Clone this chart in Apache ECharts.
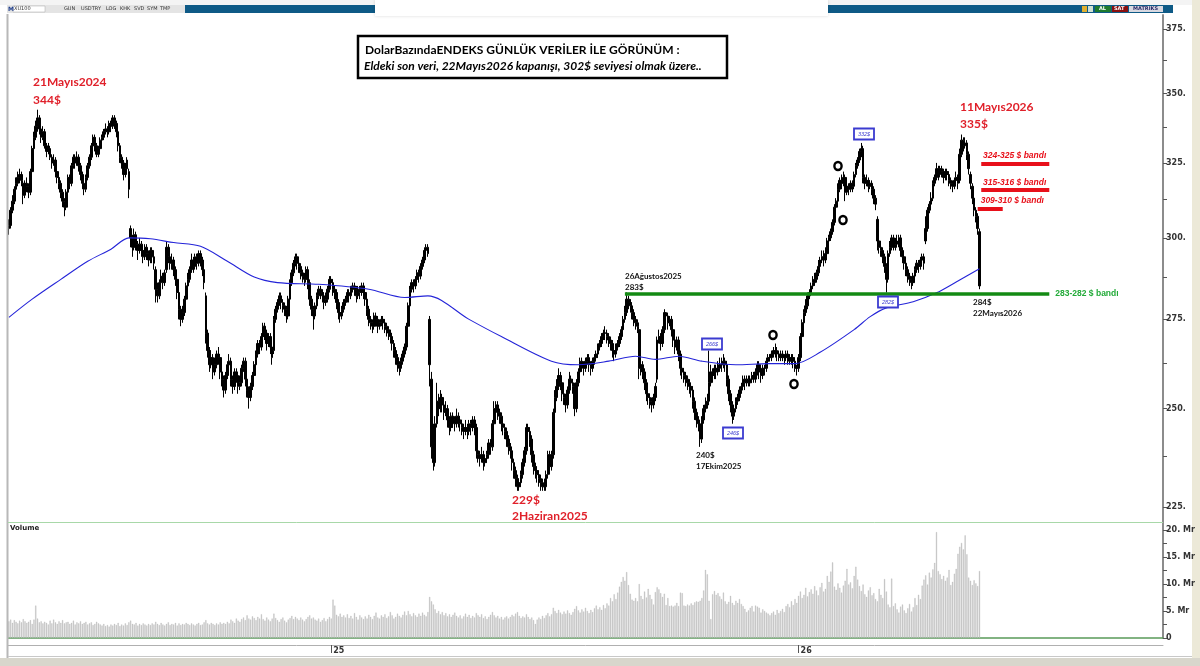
<!DOCTYPE html>
<html><head><meta charset="utf-8">
<script src="https://cdn.jsdelivr.net/npm/echarts@6/dist/echarts.min.js"></script>
<style>html,body{margin:0;padding:0;background:#fff}#c{width:1200px;height:666px}</style>
</head><body><div id="c"></div>
<script>
// ---------- categories: trading days (weekdays) ----------
const TOTAL_SLOTS = 645;
function weekdays(start, n){const out=[];const d=new Date(start+'T00:00:00Z');while(out.length<n){const w=d.getUTCDay();if(w!==0&&w!==6)out.push(d.toISOString().slice(0,10));d.setUTCDate(d.getUTCDate()+1);}return out;}
const dates = weekdays('2024-04-24', TOTAL_SLOTS);

// ---------- daily candles [open, close, low, high] (USD) ----------
const ohlc = [
[303,304,301,306],[304,309,303,310],[309,312,308,314],[312,316,311,317],[316,318,315,320],[318,320,317,322],[320,321,318,323],[321,319,317,322],[318,314,311,319],[314,318,313,319],
[318,317,315,320],[317,315,313,318],[315,322,314,323],[322,330,321,331],[330,334,329,336],[334,338,333,340],[338,341,336,344],[341,337,335,342],[337,334,332,338],[334,336,333,338],
[336,331,330,337],[331,329,327,332],[329,330,328,332],[330,327,326,331],[327,325,323,328],[325,326,324,328],[326,322,320,327],[322,320,318,323],[320,318,316,321],[318,315,313,319],
[315,312,310,316],[312,310,307,313],[310,315,309,316],[315,320,314,321],[320,318,316,321],[318,324,317,325],[324,327,323,328],[327,325,323,328],[325,327,324,329],[327,324,322,328],
[324,321,319,325],[321,318,316,322],[318,316,314,319],[316,320,315,321],[320,324,319,325],[324,327,323,328],[327,331,326,332],[331,334,330,335],[334,331,329,335],[331,328,327,332],
[328,330,327,331],[330,333,329,334],[333,334,331,335],[334,336,333,337],[336,337,335,339],[337,336,334,338],[336,339,335,340],[339,338,336,340],[338,341,337,342],[341,339,337,342],
[339,336,334,340],[336,331,329,337],[331,327,325,332],[327,325,323,328],[325,321,319,326],[321,323,320,325],[323,326,322,327],[322,316,313,323],[303,300,297,304],[300,297,294,301],
[297,301,296,303],[301,298,296,302],[298,296,293,299],[296,298,295,300],[298,296,294,299],[296,294,292,297],[294,297,293,298],[297,295,293,298],[295,293,291,296],[293,296,292,297],
[296,294,292,297],[294,292,290,295],[290,284,280,291],[284,282,280,286],[282,286,281,287],[286,288,285,290],[288,286,284,289],[286,289,285,290],[290,297,289,299],[297,294,292,298],
[294,292,290,295],[292,293,290,295],[293,290,288,294],[290,287,285,291],[287,283,281,288],[283,278,275,284],[278,275,273,279],[275,277,274,279],[277,281,276,282],[281,285,280,286],
[285,287,284,289],[287,290,286,291],[290,293,289,295],[293,291,289,294],[291,294,290,295],[294,292,290,295],[292,295,291,296],[295,293,291,296],[293,290,288,294],[290,286,284,291],
[282,271,268,283],[271,266,264,272],[266,262,260,267],[262,264,261,266],[264,260,258,265],[260,262,259,264],[262,265,261,266],[265,264,262,267],[264,260,258,265],[260,258,256,261],
[258,255,253,259],[255,259,254,260],[259,262,258,263],[262,263,261,265],[263,258,256,264],[258,256,254,259],[256,260,255,261],[260,259,257,261],[259,256,254,260],[256,257,255,259],
[257,261,256,262],[261,263,260,264],[263,258,256,264],[258,255,253,259],[255,253,250,256],[253,256,252,257],[256,259,255,260],[259,262,258,263],[262,265,261,266],[265,268,264,269],
[268,267,265,269],[267,270,266,271],[270,273,269,274],[273,271,269,274],[271,268,266,272],[268,270,267,271],[270,267,265,271],[267,264,262,268],[266,275,265,276],[275,278,274,279],
[278,280,277,281],[280,282,279,283],[282,280,278,283],[280,279,277,281],[279,278,276,280],[278,276,274,279],[276,281,275,282],[281,286,280,287],[286,289,285,290],[289,292,288,293],
[292,294,291,295],[294,292,290,295],[292,291,289,293],[291,289,287,292],[289,288,286,290],[288,287,285,289],[287,290,286,291],[290,286,284,291],[286,281,279,287],[281,278,276,282],
[278,276,272,279],[276,279,275,280],[279,282,278,283],[282,284,281,285],[284,283,281,285],[283,282,280,284],[282,280,278,283],[280,281,279,283],[281,284,280,285],[284,287,283,288],
[287,286,284,288],[286,284,282,287],[284,283,281,285],[283,280,278,284],[280,277,275,281],[277,276,274,278],[276,278,275,279],[278,280,277,281],[280,281,279,282],[281,283,280,284],
[283,282,280,284],[282,284,281,285],[284,285,283,286],[285,284,282,286],[284,282,280,285],[282,284,281,285],[284,283,281,285],[283,285,282,286],[285,283,281,286],[283,281,279,284],
[281,278,276,282],[278,275,273,279],[275,274,272,276],[274,273,271,275],[273,276,272,277],[276,275,273,277],[275,273,271,276],[273,274,272,275],[274,275,273,276],[275,274,272,276],
[274,273,271,275],[273,272,270,274],[272,271,269,273],[271,270,268,272],[270,268,266,271],[268,266,264,269],[266,264,262,267],[264,262,260,265],[262,261,259,263],[261,263,260,264],
[263,265,262,266],[265,267,264,268],[267,273,266,274],[273,279,272,280],[279,284,278,285],[284,286,283,287],[286,285,283,287],[285,287,284,288],[287,289,286,290],[289,288,286,290],
[288,291,287,292],[291,293,290,294],[293,296,292,297],[296,297,295,298],[297,295,294,298],[275,262,256,276],[258,240,237,260],[242,236,234,246],[236,246,235,248],[246,252,245,257],
[252,250,248,254],[250,253,249,255],[253,251,249,254],[251,249,247,252],[249,250,248,252],[250,247,245,251],[247,245,243,248],[245,248,244,249],[248,247,245,249],[247,246,244,248],
[246,248,245,250],[248,247,245,249],[247,246,244,248],[246,245,243,247],[245,244,242,246],[244,245,243,247],[245,244,242,246],[244,246,243,247],[246,245,243,247],[245,247,244,248],
[247,245,243,248],[245,239,237,246],[239,238,236,240],[238,237,235,239],[237,238,236,240],[238,236,234,239],[236,237,235,238],[237,238,236,239],[238,241,237,242],[241,240,238,242],
[240,246,239,247],[246,250,245,252],[250,251,248,252],[251,249,247,252],[249,248,246,250],[248,246,244,249],[246,245,243,247],[245,244,242,246],[244,242,240,245],[242,240,238,243],
[240,239,237,241],[239,236,234,240],[236,234,232,237],[234,232,230,235],[232,230,229,233],[230,231,229,232],[231,233,230,234],[233,236,232,237],[236,239,235,240],[239,245,238,246],
[245,244,242,246],[244,242,240,245],[242,238,236,243],[238,235,233,239],[235,234,232,236],[234,233,231,235],[233,232,230,234],[232,231,229,233],[231,230,229,232],[230,230,229,232],
[230,233,229,234],[233,238,232,239],[238,235,233,239],[235,238,234,239],[238,249,237,250],[249,253,248,255],[253,256,252,258],[256,259,255,261],[259,257,255,260],[257,254,252,258],
[254,253,251,255],[253,251,249,254],[251,255,250,256],[255,258,254,260],[258,257,255,259],[257,256,254,258],[256,250,248,257],[250,257,249,258],[257,260,256,261],[260,263,259,264],
[263,262,260,264],[262,261,259,263],[261,263,260,264],[263,264,262,265],[264,262,260,265],[262,261,259,263],[261,263,260,264],[263,264,262,265],[264,265,263,266],[265,267,264,268],
[267,268,266,269],[268,270,267,271],[270,271,269,272],[271,271,269,273],[271,270,268,272],[270,269,267,271],[269,268,266,270],[268,266,264,269],[266,265,263,267],[265,267,264,268],
[267,268,266,269],[268,270,267,271],[270,272,269,273],[272,275,271,276],[275,277,274,279],[277,281,276,283],[281,280,278,282],[280,279,277,281],[279,277,275,280],[277,275,273,278],
[275,274,272,276],[274,273,271,275],[272,261,258,273],[261,262,259,264],[262,260,258,263],[260,257,255,261],[257,254,252,258],[254,253,251,255],[253,252,250,254],[252,251,249,253],
[251,253,250,254],[253,256,252,257],[258,269,257,270],[269,270,268,272],[270,268,266,271],[268,272,267,273],[272,277,271,278],[277,276,274,277],[276,274,272,277],[274,275,273,276],
[275,272,270,276],[272,269,267,273],[269,267,265,270],[267,269,266,270],[269,265,263,270],[265,261,259,266],[261,260,258,262],[260,259,257,261],[259,258,256,260],[258,257,255,259],
[257,256,254,258],[256,255,253,257],[255,252,250,256],[252,249,247,253],[249,247,245,250],[247,246,244,248],[246,242,240,247],[242,247,241,248],[247,250,246,251],[250,251,249,253],
[251,252,250,254],[252,257,251,266],[257,260,256,262],[260,259,257,261],[259,261,258,262],[261,260,258,262],[260,261,259,263],[261,262,260,264],[262,262,260,264],[262,263,261,265],
[263,262,260,264],[262,258,256,263],[258,254,252,259],[254,251,249,255],[251,248,246,252],[248,250,247,251],[250,252,249,253],[252,253,251,254],[253,255,252,256],[255,256,254,257],
[256,258,255,259],[258,257,255,259],[257,258,256,259],[258,257,256,259],[257,258,256,259],[258,259,257,260],[259,258,257,260],[258,260,257,261],[260,262,259,263],[262,260,258,263],
[260,259,257,261],[259,261,258,262],[261,261,259,262],[261,263,260,264],[263,264,262,265],[264,264,263,265],[264,265,263,266],[265,266,264,267],[266,266,264,268],[266,265,263,267],
[265,264,263,266],[264,265,263,266],[265,264,263,266],[264,264,262,265],[264,265,263,266],[265,264,262,266],[264,263,262,265],[263,264,262,265],[264,263,261,265],[263,261,260,264],
[261,261,259,262],[261,264,260,265],[264,270,263,271],[270,274,269,275],[274,277,273,278],[277,279,276,281],[279,282,278,283],[282,283,281,284],[283,285,282,286],[285,286,284,288],
[286,287,285,289],[287,289,286,290],[289,291,288,293],[291,293,290,294],[293,294,292,296],[294,293,291,296],[293,295,292,297],[295,299,294,300],[299,300,298,301],[300,302,299,303],
[302,305,301,306],[305,310,304,311],[310,312,309,313],[312,316,311,318],[316,319,315,320],[319,318,316,321],[318,320,317,322],[320,315,312,321],[315,317,314,318],[317,316,314,318],
[316,318,315,319],[318,317,315,319],[317,321,316,322],[321,324,320,325],[324,326,323,327],[326,329,325,330],[329,330,327,332],[330,320,318,331],[320,318,316,321],[318,319,317,321],
[319,317,315,320],[317,318,316,319],[318,316,314,319],[316,313,311,317],[313,311,309,314],[306,299,296,307],[299,297,295,300],[297,296,294,299],[296,294,292,297],[294,291,289,295],
[291,287,283,292],[287,295,286,296],[295,297,294,299],[297,300,296,301],[300,297,296,301],[297,298,296,300],[298,299,297,301],[299,300,297,301],[300,296,294,301],[296,294,292,297],
[294,292,290,295],[292,290,288,293],[290,288,286,291],[288,287,285,289],[287,286,284,288],[286,288,285,289],[288,290,287,291],[290,292,289,293],[292,291,289,293],[291,293,290,294],
[293,294,292,295],[294,292,290,295],[299,303,298,307],[303,309,302,310],[309,311,308,312],[311,313,310,315],[313,318,312,319],[318,320,317,321],[320,323,319,325],[323,321,319,324],
[321,323,320,324],[323,322,320,324],[322,320,318,323],[320,322,319,323],[322,321,319,323],[321,319,317,322],[319,318,316,320],[318,317,315,319],[317,319,316,320],[319,320,318,322],
[320,318,316,321],[319,328,318,330],[328,333,327,335],[333,331,329,334],[331,332,330,334],[332,328,326,333],[328,323,321,329],[321,318,316,322],[317,313,311,318],[313,309,307,314],
[309,307,305,310],[307,303,301,308],[302,285,284,303]
];

// ---------- daily volume (milyar TL, "Mr") ----------
const volume = [
3.1,3.4,2.8,3.3,3.0,2.7,3.2,2.9,3.5,3.1, 2.8,3.0,3.3,2.6,3.4,6.0,3.6,2.9,3.1,2.7,
3.0,2.8,2.5,3.2,2.7,3.4,2.9,2.6,3.1,2.8, 3.3,2.7,2.9,3.0,2.6,2.8,3.2,2.5,2.9,2.7,
3.1,2.6,2.8,3.0,2.5,2.7,2.9,2.4,2.6,3.0, 2.7,2.5,2.3,2.6,2.2,2.4,2.1,2.5,2.3,2.6,
2.4,2.8,2.2,2.5,2.3,2.7,2.4,2.9,3.2,2.6, 2.5,2.8,2.3,2.6,2.4,2.7,2.5,2.3,2.6,2.4,
2.7,2.5,3.0,2.6,2.4,2.8,2.5,2.3,2.6,2.9, 2.4,2.6,2.5,2.8,2.3,2.7,2.4,2.6,2.5,2.8,
2.6,2.4,2.7,2.5,2.3,2.6,2.8,2.4,2.5,2.9, 3.3,2.7,2.5,2.8,2.6,2.4,2.7,2.5,2.9,2.6,
2.8,2.6,3.0,2.7,3.4,3.1,2.8,3.6,3.2,3.0, 3.5,3.8,3.3,4.2,3.6,3.4,4.0,3.7,3.3,3.9,
3.6,4.4,3.5,3.2,3.8,3.4,3.1,3.6,4.5,3.7, 3.3,3.0,3.5,3.8,3.2,2.9,3.4,3.7,4.1,3.5,
3.9,3.6,3.3,3.8,3.4,3.1,3.5,3.9,4.2,3.6, 3.8,3.4,3.2,3.6,3.0,3.3,3.7,3.1,3.5,3.9,
3.6,7.1,6.0,4.3,4.0,4.5,3.9,4.2,3.8,4.4, 3.7,4.1,3.6,4.6,3.9,3.4,4.2,3.8,3.5,4.0,
3.6,4.3,3.9,3.5,4.1,4.7,3.8,3.6,4.2,3.9, 4.4,3.7,4.0,4.8,4.2,3.6,3.9,4.5,4.1,3.8,
4.3,4.9,4.2,5.0,4.4,4.0,4.6,4.2,3.9,4.5, 4.1,4.7,4.3,4.0,4.8,7.6,6.8,6.2,5.3,4.6,
5.0,4.4,4.8,4.2,4.6,4.0,4.4,3.9,4.3,4.7, 4.1,3.8,4.2,3.6,4.0,4.5,3.9,4.3,3.7,4.1,
3.8,4.6,4.2,3.9,4.4,3.7,4.0,3.5,3.9,4.3, 4.8,4.2,3.8,4.1,3.6,3.9,3.4,3.8,4.0,3.6,
3.9,4.3,4.0,4.5,4.8,4.1,3.7,4.0,3.8,4.4, 3.9,3.5,3.8,3.3,2.6,3.4,3.8,3.5,4.1,3.7,
4.2,4.6,4.0,4.4,5.6,5.0,4.6,5.2,4.7,4.4, 4.9,4.5,5.1,4.6,4.3,4.8,5.4,5.9,5.1,4.7,
5.3,4.9,5.6,5.0,4.6,5.2,4.8,5.5,6.0,5.3, 5.7,5.2,6.1,5.5,6.4,6.0,7.4,6.8,8.1,7.2,
8.4,9.5,10.4,11.3,10.6,12.2,9.8,8.2,7.1,6.9, 7.4,6.8,10.0,7.8,7.2,8.6,7.5,9.1,8.0,7.2,
6.2,8.5,9.4,9.0,8.3,7.6,8.2,6.1,7.4,5.9, 6.0,5.8,6.0,6.5,5.9,8.4,8.3,6.0,5.9,6.2,
6.0,6.4,6.1,6.6,6.8,6.7,6.9,7.4,8.8,12.6, 11.8,6.9,3.5,8.1,8.7,8.0,8.3,7.7,7.2,8.4,
6.8,6.3,6.7,7.8,6.5,6.1,6.9,6.5,7.2,6.3, 5.9,5.4,4.8,5.1,5.6,5.9,4.9,6.0,5.8,5.6,
4.7,5.3,5.0,4.7,4.5,4.2,4.6,4.9,4.3,5.2, 4.6,5.0,5.4,4.8,5.9,6.3,5.7,6.8,6.1,7.2,
6.5,7.8,8.6,7.4,8.0,9.3,7.7,8.5,9.0,8.2, 9.6,8.8,7.9,9.4,10.2,8.6,9.1,11.5,10.4,12.3,
14.0,9.5,8.9,10.1,9.3,8.4,9.7,10.6,12.8,9.9, 10.3,9.2,11.5,13.2,10.8,9.6,8.7,9.9,8.1,7.6,
8.8,9.4,7.9,8.3,7.2,6.8,9.1,8.0,7.4,10.9, 8.6,6.2,5.7,11.0,5.9,6.4,5.3,4.7,5.8,6.2,
5.1,4.6,5.5,6.3,4.9,5.7,7.4,6.1,8.0,7.2, 9.7,10.8,11.6,9.9,12.1,11.2,12.7,13.9,19.6,12.4,
11.8,10.9,11.5,10.6,11.2,12.6,9.8,10.4,11.9,12.8, 15.6,16.9,17.6,16.4,19.0,15.5,11.2,10.6,9.8,10.7,
10.1,9.6,12.4
];

// ---------- moving average (blue line), read at these bar positions ----------
const maIdx = [0,13,29,44,57,67,79,92,107,122,137,150,173,201,221,234,257,275,303,318,335,350,361,374,387,406,424,439,453,472,481,490,505,518,529,542];
const maVal = [275.6,281,287,292.6,296.4,300,299.7,298.5,297.3,292.6,287.7,286,285.5,284,281.5,282,275,270,263,262,263,264.4,263.5,264.4,263,262,262.3,262.3,265.5,272,275.8,278.4,280.2,282.9,286.2,290.3];

// ---------- axis ticks ----------
const priceLabels = [225,250,275,300,325,350,375];
const priceTicks = [225,237.5,250,262.5,275,287.5,300,312.5,325,337.5,350,362.5,375];
const volLabels = [0,5,10,15,20];
const volTicks = [0,2.5,5,7.5,10,12.5,15,17.5,20];
const yearLabels = {'2025-01-01':'25','2026-01-01':'26'};

// ---------- bands: [fromBar, toBar, level, label] ----------
const redBands = [[543,581,324.8,'324-325 $ bandı','insideEndTop'],[543,581,315.8,'315-316 $ bandı','insideEndTop'],[541,555,309.6,'309-310 $ bandı','insideStartTop']];
const greenBand = [344,581,282.7,'283-282 $ bandı'];

const chart = echarts.init(document.getElementById('c'), null, {renderer:'canvas'});

const markData = [];
redBands.forEach(b=>{
  markData.push([{coord:[b[0],b[2]],lineStyle:{color:'#e8101a',width:4,type:'solid'},
    label:{show:true,position:b[4],formatter:b[3],color:'#e8101a',fontSize:8.5,fontStyle:'italic',fontWeight:'bold',fontFamily:'Liberation Sans',distance:3}},{coord:[b[1],b[2]]}]);
});
markData.push([{coord:[greenBand[0],greenBand[2]],lineStyle:{color:'#138a13',width:3.5,type:'solid'},
  label:{show:true,position:'end',formatter:greenBand[3],color:'#22aa38',fontSize:8.5,fontWeight:'bold',fontFamily:'Liberation Sans',distance:6}},{coord:[greenBand[1],greenBand[2]]}]);

const maData = maIdx.map((i,k)=>[i,maVal[k]]);

const FONT = 'Lato';
function txt(x,y,t,font,fill){return {type:'text',x:x,y:y,z:100,silent:true,style:{text:t,font:font,fill:fill,align:'left',verticalAlign:'middle'}};}
function box(cx,cy,t){return [
  {type:'rect',z:100,silent:true,shape:{x:cx-10,y:cy-5.5,width:20,height:11},style:{fill:'#fff',stroke:'#3b3bd0',lineWidth:1.8}},
  {type:'text',z:101,silent:true,x:cx,y:cy,style:{text:t,font:'italic 5.5px Liberation Sans',fill:'#3b3bd0',align:'center',verticalAlign:'middle'}}];}
function ring(cx,cy){return {type:'ellipse',z:100,silent:true,shape:{cx:cx,cy:cy,rx:3.6,ry:4},style:{fill:'none',stroke:'#000',lineWidth:2.4}};}

const red='#e0202a';
const graphics = [
  // window chrome
  {type:'rect',z:0,silent:true,shape:{x:0,y:0,width:1200,height:5},style:{fill:'#f4f4f4'}},
  {type:'rect',z:0,silent:true,shape:{x:1192,y:0,width:8,height:666},style:{fill:'#ece9d8'}},
  {type:'rect',z:0,silent:true,shape:{x:0,y:658,width:1200,height:8},style:{fill:'#d8d6cc'}},
  {type:'line',z:5,silent:true,shape:{x1:7.5,y1:14,x2:7.5,y2:658},style:{stroke:'#b8b8b8',lineWidth:2}},
  {type:'line',z:5,silent:true,shape:{x1:8,y1:522.5,x2:1163,y2:522.5},style:{stroke:'#a8d8a8',lineWidth:1}},
  {type:'line',z:5,silent:true,shape:{x1:8,y1:656.5,x2:1192,y2:656.5},style:{stroke:'#c8c8c8',lineWidth:1}},
  // toolbar
  {type:'rect',z:5,silent:true,shape:{x:7,y:5,width:178,height:8},style:{fill:'#e4e4e4'}},
  {type:'rect',z:5,silent:true,shape:{x:185,y:5,width:988,height:8},style:{fill:'#0e5a86'}},
  {type:'rect',z:6,silent:true,shape:{x:13,y:6,width:32,height:6},style:{fill:'#fff',stroke:'#aaa',lineWidth:0.5}},
  txt(8,9,'M','bold 6px DejaVu Sans','#1a3a8a'),
  txt(14,9,'XU100','5px DejaVu Sans','#333'),
  txt(64,9,'GUN','5px DejaVu Sans','#333'),
  txt(81,9,'USDTRY','5px DejaVu Sans','#333'),
  txt(106,9,'LOG','5px DejaVu Sans','#333'),
  txt(120,9,'KHK','5px DejaVu Sans','#333'),
  txt(134,9,'SVD','5px DejaVu Sans','#333'),
  txt(147,9,'SYM','5px DejaVu Sans','#333'),
  txt(160,9,'TMP','5px DejaVu Sans','#333'),
  {type:'rect',z:6,silent:true,shape:{x:1095,y:6,width:16,height:6},style:{fill:'#1e7a2e'}},
  txt(1099,9,'AL','bold 5px DejaVu Sans','#fff'),
  {type:'rect',z:6,silent:true,shape:{x:1112,y:6,width:16,height:6},style:{fill:'#8a1010'}},
  txt(1114,9,'SAT','bold 5px DejaVu Sans','#fff'),
  {type:'rect',z:6,silent:true,shape:{x:1129,y:6,width:34,height:6},style:{fill:'#d8d8e0'}},
  txt(1133,9,'MATRIKS','bold 5px DejaVu Sans','#2a2a6a'),
  {type:'rect',z:6,silent:true,shape:{x:1082,y:6,width:5,height:6},style:{fill:'#e0b030'}},
  {type:'rect',z:6,silent:true,shape:{x:1088,y:6,width:5,height:6},style:{fill:'#d0e0d0'}},
  // white overlay at top centre
  {type:'rect',z:50,silent:true,shape:{x:375,y:0,width:453,height:16},style:{fill:'#fff',shadowBlur:3,shadowColor:'rgba(0,0,0,0.15)'}},
  // title box
  {type:'rect',z:100,silent:true,shape:{x:358,y:36,width:369,height:42},style:{fill:'#fff',stroke:'#000',lineWidth:2.5}},
  txt(365,50,'DolarBazındaENDEKS GÜNLÜK VERİLER İLE GÖRÜNÜM :','bold 12px '+FONT,'#000'),
  txt(364,66,'Eldeki son veri, 22Mayıs2026 kapanışı, 302$ seviyesi olmak üzere..','italic bold 12px '+FONT,'#000'),
  // red annotations
  txt(33,82,'21Mayıs2024','bold 12px '+FONT,red),
  txt(33,100,'344$','bold 12px '+FONT,red),
  txt(960,107,'11Mayıs2026','bold 12px '+FONT,red),
  txt(960,124,'335$','bold 12px '+FONT,red),
  txt(512,500,'229$','bold 12px '+FONT,red),
  txt(512,516,'2Haziran2025','bold 12px '+FONT,red),
  // black small annotations
  txt(625,276,'26Ağustos2025','bold 8px '+FONT,'#111'),
  txt(625,287,'283$','bold 8px '+FONT,'#111'),
  txt(696,455,'240$','bold 8px '+FONT,'#111'),
  txt(696,466,'17Ekim2025','bold 8px '+FONT,'#111'),
  txt(973,302,'284$','bold 8px '+FONT,'#111'),
  txt(973,313,'22Mayıs2026','bold 8px '+FONT,'#111'),
  txt(10,528,'Volume','bold 7px DejaVu Sans','#222'),
  ...box(712,344,'266$'), ...box(733,433,'246$'), ...box(864,134,'332$'), ...box(888,302,'282$'),
  ring(838,166), ring(843,220), ring(773,335), ring(794,384)
];

const axisFont = {fontSize:8,fontFamily:'DejaVu Sans',color:'#333',fontWeight:'bold'};

chart.setOption({
  animation:false,
  backgroundColor:'#fff',
  grid:[
    {left:8,right:37,top:15,height:507,containLabel:false},
    {left:8,right:37,top:523,height:115,containLabel:false}
  ],
  xAxis:[
    {type:'category',gridIndex:0,data:dates,boundaryGap:true,axisLine:{show:false},axisTick:{show:false},axisLabel:{show:false},splitLine:{show:false}},
    {type:'category',gridIndex:1,data:dates,boundaryGap:true,axisLine:{show:true,lineStyle:{color:'#5a9a5a',width:1.5}},axisTick:{show:false},axisLabel:{show:false}},
    {type:'category',gridIndex:1,data:dates,boundaryGap:true,position:'bottom',offset:7,
      axisLine:{show:true,lineStyle:{color:'#b0b0b0',width:1}},
      axisTick:{show:true,alignWithLabel:true,length:8,interval:(i,v)=>!!yearLabels[v],lineStyle:{color:'#555'}},
      axisLabel:{show:true,interval:(i,v)=>!!yearLabels[v],formatter:v=>yearLabels[v]||'',align:'left',margin:2,padding:[0,0,0,2],...axisFont}}
  ],
  yAxis:[
    {type:'log',gridIndex:0,position:'right',min:221.5,max:380.6,logBase:10,
      axisLine:{show:true,lineStyle:{color:'#8c8c8c',width:2}},
      axisTick:{show:true,length:4,customValues:priceTicks,lineStyle:{color:'#555'}},
      axisLabel:{show:true,customValues:priceLabels,formatter:v=>Math.round(v)+'.',margin:3,...axisFont},
      splitLine:{show:false},minorTick:{show:false}},
    {type:'value',gridIndex:1,position:'right',min:0,max:21.3,
      axisLine:{show:true,lineStyle:{color:'#8c8c8c',width:2}},
      axisTick:{show:true,length:4,customValues:volTicks,lineStyle:{color:'#555'}},
      axisLabel:{show:true,customValues:volLabels,formatter:v=>v===0?'0':Math.round(v)+'. Mr',margin:3,...axisFont},
      splitLine:{show:false}}
  ],
  series:[
    {type:'candlestick',xAxisIndex:0,yAxisIndex:0,data:ohlc,barWidth:2.2,
      itemStyle:{color:'#000',color0:'#000',borderColor:'#000',borderColor0:'#000',borderWidth:1},
      markLine:{silent:true,symbol:['none','none'],animation:false,data:markData}},
    {type:'line',xAxisIndex:0,yAxisIndex:0,data:maData,smooth:0.3,showSymbol:false,symbol:'none',
      lineStyle:{color:'#2424d8',width:1.1},z:3},
    {type:'bar',xAxisIndex:1,yAxisIndex:1,data:volume,barWidth:1.1,
      itemStyle:{color:'#c6c6c6',borderColor:'#b4b4b4',borderWidth:0.3}}
  ],
  graphic:graphics
});
</script></body></html>
